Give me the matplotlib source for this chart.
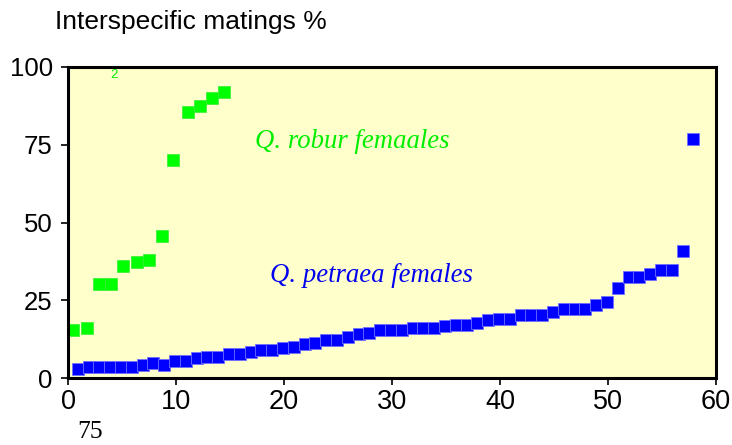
import numpy as np
import matplotlib
matplotlib.use('Agg')
import matplotlib.pyplot as plt

# Q. robur females (green)
robur_x = [0.5, 1.8, 2.9, 4.0, 5.1, 6.4, 7.5, 8.7, 9.75, 11.1, 12.2, 13.3, 14.4]
robur_y = [15.4, 16.2, 30.2, 30.2, 36.0, 37.4, 38.0, 45.8, 70.1, 85.5, 87.6, 90.1, 92.0]

# Q. petraea females (blue), ranked
petraea_x = np.arange(1, 59) - 0.1
petraea_y = [3.0, 3.6, 3.6, 3.6, 3.6, 3.6, 4.2, 4.9, 4.2, 5.6,
             5.6, 6.3, 6.9, 6.9, 7.6, 7.6, 8.2, 8.9, 8.9, 9.5,
             10.1, 10.8, 11.4, 12.1, 12.1, 13.3, 14.0, 14.6, 15.3, 15.3,
             15.3, 16.0, 16.0, 16.0, 16.6, 17.2, 17.2, 17.8, 18.5, 19.1,
             19.1, 20.4, 20.4, 20.4, 21.1, 22.3, 22.3, 22.3, 23.6, 24.3,
             28.8, 32.6, 32.6, 33.3, 34.6, 34.6, 40.9, 77.0]

x_ticks = [0, 10, 20, 30, 40, 50, 60]
y_ticks = [0, 25, 50, 75, 100]

sans = 'Liberation Sans'
serif = 'Liberation Serif'

fig = plt.figure(figsize=(7.32, 4.45), dpi=100)
ax = fig.add_axes([68 / 732, 1 - 378 / 445, (716 - 68) / 732, (378 - 67) / 445])
ax.set_facecolor('#ffffcc')

ax.plot(robur_x, robur_y, 's', color='#00ff00', markersize=8.6,
        markeredgecolor='#33ee33', markeredgewidth=0.5, clip_on=False)
ax.plot(petraea_x, petraea_y, 's', color='#0000ff', markersize=8.3,
        markeredgecolor='#7070ff', markeredgewidth=0.6, clip_on=False)

ax.set_xlim(0, 60)
ax.set_ylim(0, 100)
ax.set_xticks(x_ticks)
ax.set_yticks(y_ticks)
ax.set_xticklabels([str(t) for t in x_ticks], fontfamily=sans, fontsize=19.5)
ax.set_yticklabels([str(t) for t in y_ticks], fontfamily=sans, fontsize=18.5)
ax.tick_params(direction='out', length=5, width=1.2)
ax.tick_params(axis='y', pad=6)
ax.tick_params(axis='x', pad=3)

for s in ax.spines.values():
    s.set_linewidth(2.2)

ax.text(17.3, 76, 'Q. robur femaales', color='#00ee00', fontfamily=serif,
        style='italic', fontsize=19.3, va='center')
ax.text(18.7, 33, 'Q. petraea females', color='#0000ee', fontfamily=serif,
        style='italic', fontsize=19.3, va='center')
ax.text(3.9, 97.3, '2', color='#00ee00', fontfamily=sans, fontsize=9.5, va='center')

fig.text(55 / 732, 1 - 22 / 445, 'Interspecific matings %', fontfamily=sans,
         fontsize=19, va='center', ha='left')
fig.text(77 / 732, 2 / 445, '75', fontfamily=serif, fontsize=18.5,
         va='bottom', ha='left')

fig.savefig('out.png', dpi=100)
